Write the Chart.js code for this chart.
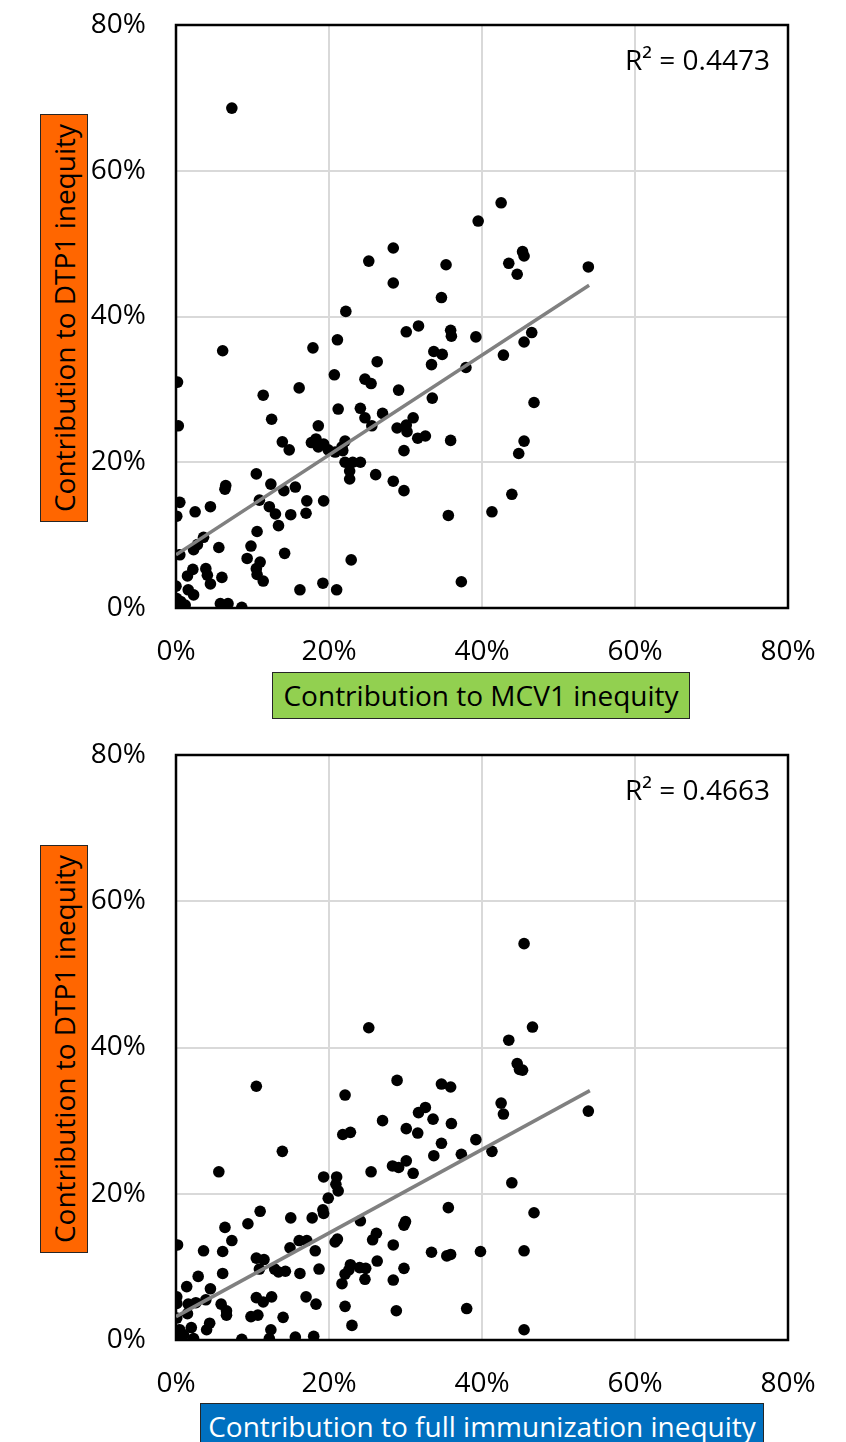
<!DOCTYPE html>
<html>
<head>
<meta charset="utf-8">
<script src="https://cdn.jsdelivr.net/npm/chart.js@4.4.1/dist/chart.umd.min.js"></script>
<style>
  body { margin: 0; background: #fff; font-family: "Open Sans", sans-serif; }
  #wrap { position: relative; width: 846px; height: 1442px; overflow: hidden; }
  canvas { position: absolute; left: 0; display: block; }
  .ytitle { position: absolute; left: 40px; width: 48px; height: 408px; box-sizing: border-box;
    border: 1.5px solid #262626; background: #FF6600; color: #000; font-size: 28px;
    display: flex; align-items: center; justify-content: center; }
  .ytitle span { writing-mode: vertical-rl; transform: rotate(180deg); white-space: nowrap; line-height: 46px; }
  .xtitle { position: absolute; height: 47px; box-sizing: border-box; border: 1.5px solid #262626;
    font-size: 28px; text-align: center; line-height: 44px; white-space: nowrap; }
  .r2 { position: absolute; right: 76px; font-size: 28px; line-height: 34px; color: #000; white-space: nowrap; }
</style>
</head>
<body>
<div id="wrap">
  <canvas id="chart1" width="846" height="730" style="top:0"></canvas>
  <canvas id="chart2" width="846" height="712" style="top:730px"></canvas>

  <div class="ytitle" style="top:114px"><span>Contribution to DTP1 inequity</span></div>
  <div class="xtitle" style="left:272px; top:672px; width:418px; background:#92D050; color:#000">Contribution to MCV1 inequity</div>
  <div class="r2" style="top:42px">R² = 0.4473</div>

  <div class="ytitle" style="top:845px"><span>Contribution to DTP1 inequity</span></div>
  <div class="xtitle" style="left:200px; top:1403px; width:564px; background:#0070C0; color:#fff">Contribution to full immunization inequity</div>
  <div class="r2" style="top:772px">R² = 0.4663</div>
</div>

<script>
// top chart: MCV1 (x) vs DTP1 (y), in %
var mcvX = [7.3, 39.5, 28.4, 25.2, 35.3, 28.4, 34.7, 22.2, 42.5, 45.3, 45.5, 43.5, 44.6, 53.9,
  39.2, 46.5, 45.5, 42.8, 37.9, 46.8, 45.5, 44.8, 43.9, 41.3, 37.3, 6.1, 17.9, 21.1, 30.1, 31.7,
  35.9, 36.0, 0.2, 0.3, 11.4, 16.1, 20.7, 26.3, 33.7, 34.8, 33.4, 24.7, 25.5, 29.1, 33.5, 12.5,
  18.6, 21.2, 24.1, 24.7, 27.0, 25.6, 28.9, 30.1, 30.2, 31.0, 31.6, 32.6, 35.9, 29.8, 13.9, 14.8,
  17.7, 18.3, 18.6, 19.3, 19.9, 20.8, 21.8, 22.1, 21.7, 22.1, 23.1, 24.1, 22.7, 22.7, 26.1, 28.4,
  29.8, 35.6, 10.5, 6.5, 6.4, 12.4, 14.1, 15.6, 10.9, 17.1, 19.3, 12.2, 13.0, 15.0, 17.0, 13.4,
  10.6, 0.5, 0.1, 2.5, 4.5, 3.6, 2.8, 2.3, 0.5, 5.6, 9.8, 9.3, 11.0, 10.5, 10.6, 11.4, 14.2, 22.9,
  2.2, 1.5, 3.9, 4.1, 4.5, 6.0, 0.0, 1.6, 2.3, 16.2, 19.2, 21.0, 0.1, 0.6, 0.0, 1.2, 0.3, 5.8, 6.8, 8.6];
var mcvDtpY = [68.6, 53.1, 49.4, 47.6, 47.1, 44.6, 42.6, 40.7, 55.6, 48.9, 48.3, 47.3, 45.8, 46.8,
  37.2, 37.8, 36.5, 34.7, 33.0, 28.2, 22.9, 21.2, 15.6, 13.2, 3.6, 35.3, 35.7, 36.8, 37.9, 38.7,
  38.1, 37.3, 31.0, 25.0, 29.2, 30.2, 32.0, 33.8, 35.2, 34.8, 33.4, 31.4, 30.8, 29.9, 28.8, 25.9,
  25.0, 27.3, 27.4, 26.1, 26.7, 25.0, 24.7, 25.1, 24.2, 26.1, 23.3, 23.6, 23.0, 21.6, 22.8, 21.7,
  22.7, 23.2, 22.1, 22.5, 21.7, 21.4, 21.6, 22.9, 22.1, 20.0, 20.0, 20.0, 18.8, 17.7, 18.3, 17.4,
  16.1, 12.7, 18.4, 16.8, 16.3, 17.0, 16.1, 16.6, 14.8, 14.7, 14.7, 13.9, 12.9, 12.8, 13.0, 11.3,
  10.5, 14.5, 12.6, 13.2, 13.9, 9.7, 8.7, 8.0, 7.3, 8.3, 8.5, 6.8, 6.3, 5.4, 4.6, 3.7, 7.5, 6.6,
  5.3, 4.4, 5.4, 4.5, 3.3, 4.2, 3.0, 2.5, 1.8, 2.5, 3.4, 2.5, 1.3, 0.9, 0.2, 0.4, 0.0, 0.6, 0.6, 0.1];
var mcvTrendX = [0, 54];
var mcvTrendY = [7.3, 44.3];

// bottom chart: full immunization (x) vs DTP1 (y), in %
var fullX = [25.2, 45.5, 46.6, 43.5, 44.6, 44.9, 45.3, 42.5, 42.8, 53.9, 39.2, 41.3, 37.3, 43.9,
  46.8, 39.8, 45.5, 38.0, 45.5, 10.5, 28.9, 22.1, 34.7, 35.9, 31.7, 32.6, 27.0, 30.1, 31.6, 33.6,
  36.0, 34.7, 33.7, 21.8, 22.8, 13.9, 5.6, 19.3, 21.0, 20.9, 21.2, 19.9, 19.2, 19.3, 25.5, 28.3,
  29.1, 30.1, 31.0, 35.6, 33.4, 35.4, 35.9, 24.1, 30.0, 29.8, 26.2, 25.7, 28.4, 26.3, 29.8, 28.4,
  28.8, 20.8, 21.1, 22.8, 22.6, 22.1, 21.7, 24.0, 24.8, 24.7, 22.1, 23.0, 11.0, 9.4, 6.4, 7.3, 3.6,
  6.1, 0.2, 15.0, 17.8, 14.9, 16.1, 17.1, 18.2, 10.5, 11.5, 10.9, 12.9, 13.4, 14.3, 16.2, 18.7,
  6.1, 2.9, 1.4, 4.5, 0.1, 0.1, 1.6, 2.6, 3.9, 1.5, 0.1, 5.9, 6.6, 6.6, 10.5, 11.4, 12.5, 9.8,
  10.7, 14.0, 17.0, 18.3, 4.4, 4.0, 2.0, 0.5, 2.3, 0.0, 1.0, 0.3, 8.6, 12.4, 12.2, 15.6, 18.0];
var fullDtpY = [42.7, 54.2, 42.8, 41.0, 37.8, 37.0, 36.9, 32.4, 30.9, 31.3, 27.4, 25.8, 25.4, 21.5,
  17.4, 12.1, 12.2, 4.3, 1.4, 34.7, 35.5, 33.5, 35.0, 34.6, 31.1, 31.8, 30.0, 28.9, 28.3, 30.2,
  29.6, 26.9, 25.2, 28.1, 28.4, 25.8, 23.0, 22.3, 22.3, 21.3, 20.4, 19.4, 17.8, 17.3, 23.0, 23.8,
  23.6, 24.5, 22.8, 18.1, 12.0, 11.5, 11.7, 16.3, 16.2, 15.7, 14.6, 13.7, 13.0, 10.8, 9.8, 8.2,
  4.0, 13.4, 13.8, 10.3, 9.6, 9.0, 7.7, 9.9, 9.8, 8.3, 4.6, 2.0, 17.6, 15.9, 15.4, 13.6, 12.2,
  12.1, 13.0, 16.7, 16.7, 12.6, 13.6, 13.6, 12.2, 11.2, 11.0, 9.7, 9.7, 9.3, 9.4, 9.1, 9.7,
  9.1, 8.7, 7.3, 7.0, 5.9, 5.0, 4.9, 5.1, 5.5, 3.6, 3.0, 4.9, 4.0, 3.4, 5.8, 5.2, 5.9, 3.2,
  3.4, 3.1, 5.9, 4.9, 2.3, 1.4, 1.7, 1.4, 0.2, 0.2, 0.7, 1.1, 0.1, 1.4, 0.2, 0.4, 0.5];
var fullTrendX = [0, 54.1];
var fullTrendY = [3.2, 34.1];

var axisTicks = [0, 20, 40, 60, 80];

var frame = {
  id: 'frame',
  beforeDatasetsDraw: function(chart) {
    var a = chart.chartArea, c = chart.ctx;
    c.save();
    c.strokeStyle = '#000';
    c.lineWidth = 2.5;
    c.strokeRect(a.left, a.top, a.right - a.left, a.bottom - a.top);
    c.restore();
  }
};

function toPoints(xs, ys) {
  return xs.map(function(x, i) { return { x: x, y: ys[i] }; });
}

function makeChart(id, xs, ys, tx, ty, xAxisH) {
  var tickFont = { family: 'Open Sans', size: 28 };
  var grid = { color: '#D9D9D9', lineWidth: 2, drawTicks: false };
  return new Chart(document.getElementById(id), {
    type: 'scatter',
    data: {
      datasets: [
        {
          type: 'line',
          data: toPoints(tx, ty),
          borderColor: '#808080',
          borderWidth: 3.5,
          pointRadius: 0,
          fill: false,
          order: 0
        },
        {
          data: toPoints(xs, ys),
          backgroundColor: '#000',
          borderWidth: 0,
          pointRadius: 5.8,
          order: 1
        }
      ]
    },
    options: {
      responsive: false,
      devicePixelRatio: 1,
      animation: false,
      layout: { padding: { left: 0, right: 58, top: 25, bottom: 0 } },
      plugins: { legend: { display: false }, tooltip: { enabled: false } },
      scales: {
        x: {
          type: 'linear', min: 0, max: 80,
          afterBuildTicks: function(s) { s.ticks = axisTicks.map(function(v) { return { value: v }; }); },
          ticks: { padding: 27, color: '#000', font: tickFont, maxRotation: 0, autoSkip: false,
            callback: function(v) { return v + '%'; } },
          grid: grid,
          border: { display: false },
          afterFit: function(s) { s.height = xAxisH; }
        },
        y: {
          type: 'linear', min: 0, max: 80,
          afterBuildTicks: function(s) { s.ticks = axisTicks.map(function(v) { return { value: v }; }); },
          ticks: { padding: 30, color: '#000', font: tickFont, autoSkip: false,
            callback: function(v) { return v + '%'; } },
          grid: grid,
          border: { display: false },
          afterFit: function(s) { s.width = 176; s.paddingTop = 0; s.paddingBottom = 0; }
        }
      }
    },
    plugins: [frame]
  });
}

makeChart('chart1', mcvX, mcvDtpY, mcvTrendX, mcvTrendY, 122);
makeChart('chart2', fullX, fullDtpY, fullTrendX, fullTrendY, 102);
</script>
</body>
</html>
